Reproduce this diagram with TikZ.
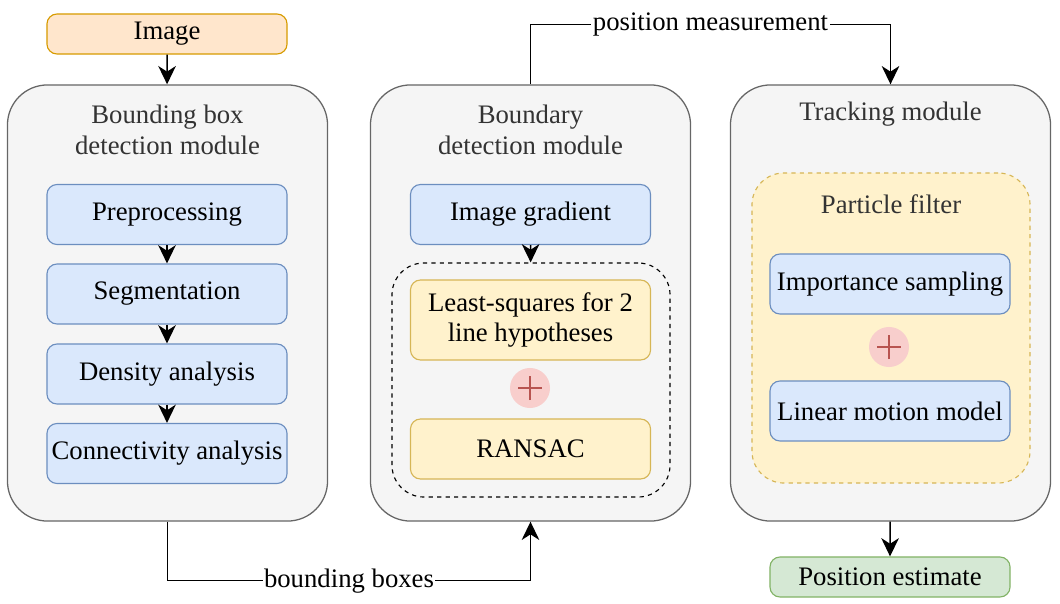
\documentclass[tikz,border=0pt]{standalone}
\usepackage{fontspec}
\setmainfont{Liberation Serif}
\usepackage{tikz}
\usepackage{xcolor}
\usetikzlibrary{arrows.meta, positioning, shapes.geometric}

\definecolor{modfill}{HTML}{F5F5F5}
\definecolor{moddraw}{HTML}{666666}
\definecolor{modtext}{HTML}{333333}
\definecolor{bluefill}{HTML}{DAE8FC}
\definecolor{bluedraw}{HTML}{6C8EBF}
\definecolor{yellowfill}{HTML}{FFF2CC}
\definecolor{yellowdraw}{HTML}{D6B656}
\definecolor{orangefill}{HTML}{FFE6CC}
\definecolor{orangedraw}{HTML}{D79B00}
\definecolor{greenfill}{HTML}{D5E8D4}
\definecolor{greendraw}{HTML}{82B366}
\definecolor{redfill}{HTML}{F8CECC}
\definecolor{reddraw}{HTML}{B85450}

\begin{document}
\begin{tikzpicture}[
    x=0.025cm, y=-0.025cm,
    font=\fontsize{19}{22}\selectfont,
    module/.style={rectangle, rounded corners=1cm, draw=moddraw, fill=modfill, line width=0.9pt, minimum width=8cm, minimum height=10.9cm},
    title/.style={text=modtext, align=center},
    box/.style={rectangle, rounded corners=0.25cm, draw=bluedraw, fill=bluefill, line width=0.8pt, minimum width=6cm, minimum height=1.5cm, inner sep=1pt, align=center},
    ybox/.style={box, draw=yellowdraw, fill=yellowfill},
    endbox/.style={box, minimum height=1cm},
    group/.style={rectangle, rounded corners=0.8cm, dashed, line width=0.8pt, minimum width=6.95cm},
    plus/.style={circle, fill=redfill, minimum size=1cm, inner sep=0pt,
        path picture={\draw[reddraw, line width=0.8pt] ([xshift=-0.3cm]path picture bounding box.center) -- ([xshift=0.3cm]path picture bounding box.center)
            ([yshift=-0.3cm]path picture bounding box.center) -- ([yshift=0.3cm]path picture bounding box.center);}},
    arrow/.style={-{Stealth[length=13pt, width=12.5pt, inset=4pt]}, line width=1.1pt},
    line/.style={fill=white, inner sep=1pt}
]
    \useasboundingbox (0,0) rectangle (1060,604);

    % Modules
    \node[module] (bbox) at (167.5,303) {};
    \node[module] (boundary) at (530.5,303) {};
    \node[module] (tracking) at (890.5,303) {};
    \node[title] at (167.5,130) {Bounding box\\detection module};
    \node[title] at (530.5,130) {Boundary\\detection module};
    \node[title] at (890.5,114) {Tracking module};

    % Groups
    \node[group, draw=black, minimum height=5.85cm] (fitting) at (531,380) {};
    \node[group, draw=yellowdraw, fill=yellowfill, minimum height=7.75cm] (particle) at (891,328) {};
    \node[title] at (891,204) {Particle filter};

    % Steps
    \node[endbox, draw=orangedraw, fill=orangefill] (image) at (167,34) {Image};
    \node[box] (pre) at (167,214.5) {Preprocessing};
    \node[box] (seg) at (167,294) {Segmentation};
    \node[box] (dens) at (167,374) {Density analysis};
    \node[box] (conn) at (167,453.5) {Connectivity analysis};
    \node[box] (grad) at (530.5,214.5) {Image gradient};
    \node[ybox, minimum height=2cm] (lsq) at (530.5,320) {Least-squares for 2\\line hypotheses};
    \node[plus] (plusa) at (530,388) {};
    \node[ybox] (ransac) at (530.5,449) {RANSAC};
    \node[box] (imp) at (890,284) {Importance sampling};
    \node[plus] (plusb) at (889,347) {};
    \node[box] (motion) at (890,411) {Linear motion model};
    \node[endbox, draw=greendraw, fill=greenfill] (estimate) at (890,577) {Position estimate};

    % Connections
    \draw[arrow] (image) -- (bbox);
    \draw[arrow] (pre) -- (seg);
    \draw[arrow] (seg) -- (dens);
    \draw[arrow] (dens) -- (conn);
    \draw[arrow] (grad) -- (fitting);
    \draw[arrow] (tracking) -- (estimate);
    \draw[arrow] (bbox.south) -- ++(0,59) -| node[pos=0.25, line] {bounding boxes} (boundary.south);
    \draw[arrow] (boundary.north) -- ++(0,-60) -| node[pos=0.25, line] {position measurement} (tracking.north);
\end{tikzpicture}
\end{document}
